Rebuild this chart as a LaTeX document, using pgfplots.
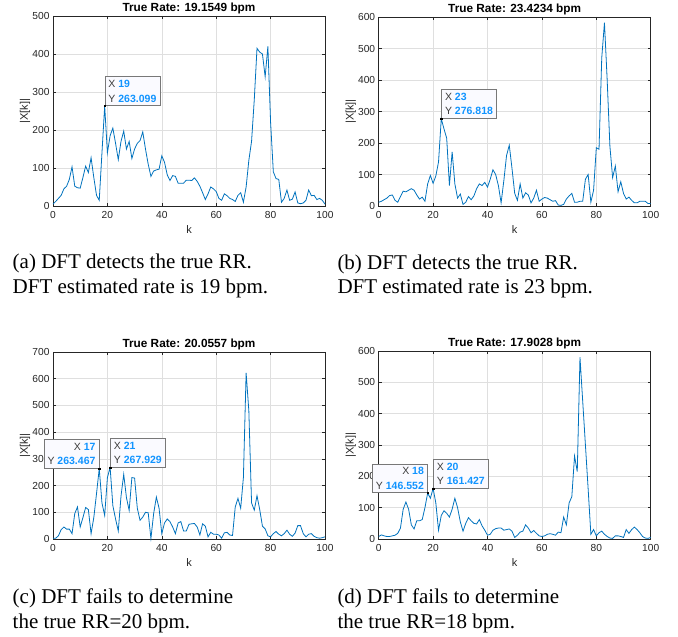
\documentclass[border=0pt]{standalone}
\usepackage{pgfplots}
\pgfplotsset{compat=1.18}
\usepackage{fontspec}
\setmainfont{Liberation Serif}
\newfontfamily\axisfont{Liberation Sans}
\definecolor{mblue}{RGB}{0,114,189}
\definecolor{axgray}{RGB}{38,38,38}
\definecolor{gridgray}{RGB}{223,223,223}
\definecolor{tipblue}{RGB}{17,148,255}
\definecolor{tiptext}{RGB}{60,60,60}
\definecolor{tipborder}{RGB}{120,120,120}
\definecolor{tipfill}{RGB}{250,250,255}
\newcommand\tipline[2]{{\color{tiptext}#1} {\color{tipblue}\bfseries #2}}
\tikzset{tip/.style={draw=tipborder, fill=tipfill, font=\axisfont\fontsize{10.5}{14.5}\selectfont,
      inner xsep=3.5pt, inner ysep=3.5pt, line width=0.6pt}}
\pgfplotsset{
  set layers,
  mat/.style={
    scale only axis, width=272pt, height=190pt,
    xmin=0, xmax=100, ymin=0, clip=false,
    xtick={0,20,40,60,80,100},
    grid=major,
    major grid style={draw=gridgray, line width=0.6pt},
    axis line style={draw=axgray, line width=0.6pt},
    every tick/.style={draw=axgray, line width=0.6pt},
    tick align=inside,
    major tick length=3pt,
    ticklabel style={font=\axisfont\fontsize{10.2}{12}\selectfont, text=axgray},
    xticklabel style={yshift=-2pt},
    /pgf/number format/assume math mode=true,
    scaled ticks=false,
    xlabel={k}, ylabel={|X[k]|},
    every axis x label/.style={at={(axis description cs:0.5,0)}, anchor=base, yshift=-28pt,
      font=\axisfont\fontsize{11}{13}\selectfont, text=axgray},
    every axis y label/.style={at={(axis description cs:-0.103,0.5)}, rotate=90, anchor=center,
      font=\axisfont\fontsize{11}{13}\selectfont, text=axgray},
    every axis title/.style={at={(axis description cs:0.5,1)}, anchor=base, yshift=4.5pt,
      font=\axisfont\bfseries\fontsize{11.8}{13}\selectfont, text=black},
  },
  dft/.style={draw=mblue, line width=0.8pt, mark=none},
  dot/.style={only marks, mark=square*, mark size=0.6pt, black},
}
\begin{document}
\begin{tikzpicture}

% ---------- (a)
\begin{axis}[mat, at={(53pt,431pt)}, anchor=south west, ymax=500,
  ytick={0,100,200,300,400,500}, title={True Rate: 19.1549 bpm}]
\addplot[dft] coordinates {
(0,5) (1,12) (2,20) (3,28) (4,45) (5,52) (6,70) (7,103) (8,52) (9,48)
(10,47) (11,75) (12,105) (13,88) (14,127) (15,75) (16,28) (17,15) (18,140) (19,263.099)
(20,140) (21,185) (22,205) (23,165) (24,122) (25,170) (26,197) (27,150) (28,170) (29,125)
(30,150) (31,165) (32,172) (33,195) (34,150) (35,110) (36,78) (37,92) (38,95) (39,97)
(40,132) (41,115) (42,82) (43,67) (44,80) (45,78) (46,60) (47,60) (48,60) (49,68)
(50,68) (51,67) (52,74) (53,65) (54,52) (55,35) (56,17) (57,32) (58,50) (59,45)
(60,38) (61,20) (62,15) (63,32) (64,27) (65,20) (66,17) (67,12) (68,28) (69,35)
(70,10) (71,50) (72,120) (73,170) (74,280) (75,415) (76,405) (77,400) (78,340) (79,420)
(80,220) (81,90) (82,72) (83,70) (84,10) (85,20) (86,42) (87,15) (88,18) (89,37)
(90,8) (91,6) (92,8) (93,15) (94,42) (95,27) (96,28) (97,17) (98,20) (99,15)
(100,5)
};
\addplot[dot] coordinates {(19,263.099)};
\node[tip, anchor=south west, align=left] at (axis cs:19,263.099)
  {\tipline{X}{19}\\\tipline{Y}{263.099}};
\end{axis}

% ---------- (b)
\begin{axis}[mat, at={(378.7pt,431pt)}, anchor=south west, ymax=600, height=189pt,
  ytick={0,100,200,300,400,500,600}, title={True Rate: 23.4234 bpm}]
\addplot[dft] coordinates {
(0,12) (1,15) (2,20) (3,25) (4,33) (5,35) (6,18) (7,12) (8,30) (9,47)
(10,45) (11,50) (12,55) (13,50) (14,35) (15,22) (16,28) (17,15) (18,70) (19,97)
(20,72) (21,95) (22,140) (23,276.818) (24,245) (25,215) (26,65) (27,172) (28,70) (29,25)
(30,38) (31,5) (32,12) (33,30) (34,20) (35,32) (36,55) (37,70) (38,65) (39,75)
(40,60) (41,85) (42,115) (43,100) (44,65) (45,10) (46,80) (47,160) (48,193) (49,120)
(50,40) (51,18) (52,70) (53,25) (54,42) (55,35) (56,10) (57,25) (58,50) (59,15)
(60,22) (61,27) (62,25) (63,20) (64,15) (65,17) (66,3) (67,2) (68,5) (69,22)
(70,32) (71,40) (72,12) (73,12) (74,15) (75,15) (76,85) (77,100) (78,12) (79,50)
(80,185) (81,180) (82,470) (83,582) (84,400) (85,190) (86,90) (87,127) (88,45) (89,77)
(90,40) (91,22) (92,28) (93,18) (94,10) (95,10) (96,15) (97,15) (98,15) (99,8)
(100,8)
};
\addplot[dot] coordinates {(23,276.818)};
\node[tip, anchor=south west, align=left] at (axis cs:23,276.818)
  {\tipline{X}{23}\\\tipline{Y}{276.818}};
\end{axis}

% ---------- (c)
\begin{axis}[mat, at={(53pt,98pt)}, anchor=south west, ymax=700, height=187pt,
  ytick={0,100,200,300,400,500,600,700}, title={True Rate: 20.0557 bpm}]
\addplot[dft] coordinates {
(0,3) (1,3) (2,12) (3,35) (4,45) (5,37) (6,37) (7,20) (8,95) (9,120)
(10,45) (11,80) (12,118) (13,110) (14,20) (15,80) (16,170) (17,263.467) (18,135) (19,88)
(20,230) (21,267.929) (22,125) (23,75) (24,30) (25,160) (26,242) (27,155) (28,107) (29,230)
(30,228) (31,115) (32,70) (33,82) (34,100) (35,98) (36,2) (37,95) (38,157) (39,115)
(40,20) (41,60) (42,75) (43,65) (44,45) (45,20) (46,60) (47,65) (48,30) (49,30)
(50,55) (51,57) (52,58) (53,45) (54,15) (55,57) (56,48) (57,8) (58,25) (59,18)
(60,18) (61,15) (62,3) (63,23) (64,25) (65,15) (66,13) (67,120) (68,152) (69,115)
(70,230) (71,622) (72,480) (73,135) (74,108) (75,162) (76,110) (77,48) (78,38) (79,12)
(80,8) (81,20) (82,28) (83,18) (84,12) (85,20) (86,33) (87,18) (88,10) (89,22)
(90,50) (91,50) (92,20) (93,8) (94,18) (95,20) (96,10) (97,5) (98,3) (99,5)
(100,8)
};
\addplot[dot] coordinates {(17,263.467) (21,267.929)};
\node[tip, anchor=south east, align=right] at (axis cs:17,263.467)
  {\tipline{X}{17}\\\tipline{Y}{263.467}};
\node[tip, anchor=south west, align=left] at (axis cs:21,267.929)
  {\tipline{X}{21}\\\tipline{Y}{267.929}};
\end{axis}

% ---------- (d)
\begin{axis}[mat, at={(378.7pt,98pt)}, anchor=south west, ymax=600, height=188pt,
  ytick={0,100,200,300,400,500,600}, title={True Rate: 17.9028 bpm}]
\addplot[dft] coordinates {
(0,8) (1,13) (2,10) (3,8) (4,8) (5,10) (6,12) (7,18) (8,35) (9,95)
(10,118) (11,95) (12,45) (13,32) (14,58) (15,58) (16,62) (17,100) (18,146.552) (19,130)
(20,161.427) (21,115) (22,28) (23,75) (24,90) (25,82) (26,70) (27,95) (28,130) (29,100)
(30,55) (31,25) (32,50) (33,68) (34,58) (35,50) (36,48) (37,62) (38,42) (39,28)
(40,12) (41,15) (42,28) (43,33) (44,35) (45,35) (46,28) (47,30) (48,32) (49,25)
(50,5) (51,12) (52,22) (53,25) (54,45) (55,35) (56,20) (57,27) (58,18) (59,10)
(60,8) (61,10) (62,15) (63,17) (64,15) (65,12) (66,22) (67,20) (68,70) (69,45)
(70,115) (71,135) (72,265) (73,215) (74,580) (75,440) (76,300) (77,160) (78,15) (79,30)
(80,10) (81,20) (82,25) (83,15) (84,8) (85,3) (86,2) (87,10) (88,10) (89,8)
(90,5) (91,30) (92,18) (93,30) (94,38) (95,30) (96,20) (97,8) (98,3) (99,2)
(100,5)
};
\addplot[dot] coordinates {(18,146.552) (20,161.427)};
\node[tip, anchor=south east, align=right] at (axis cs:18,146.552)
  {\tipline{X}{18}\\\tipline{Y}{146.552}};
\node[tip, anchor=south west, align=left] at (axis cs:20,161.427)
  {\tipline{X}{20}\\\tipline{Y}{161.427}};
\end{axis}

% ---------- captions
\begin{scope}[every node/.style={anchor=base west, inner sep=0pt, font=\fontsize{21}{24}\selectfont}]
\node at (12.5pt,368pt) {(a) DFT detects the true RR.};
\node at (12.5pt,343.7pt) {DFT estimated rate is 19 bpm.};
\node at (337.3pt,367.7pt) {(b) DFT detects the true RR.};
\node at (337.3pt,343pt) {DFT estimated rate is 23 bpm.};
\node at (12.5pt,33pt) {(c) DFT fails to determine};
\node at (12.5pt,8.7pt) {the true RR=20 bpm.};
\node at (337.3pt,33pt) {(d) DFT fails to determine};
\node at (337.3pt,8.7pt) {the true RR=18 bpm.};
\end{scope}
\pgfresetboundingbox
\path[use as bounding box] (0pt,0pt) rectangle (678pt,637pt);
\end{tikzpicture}
\end{document}
